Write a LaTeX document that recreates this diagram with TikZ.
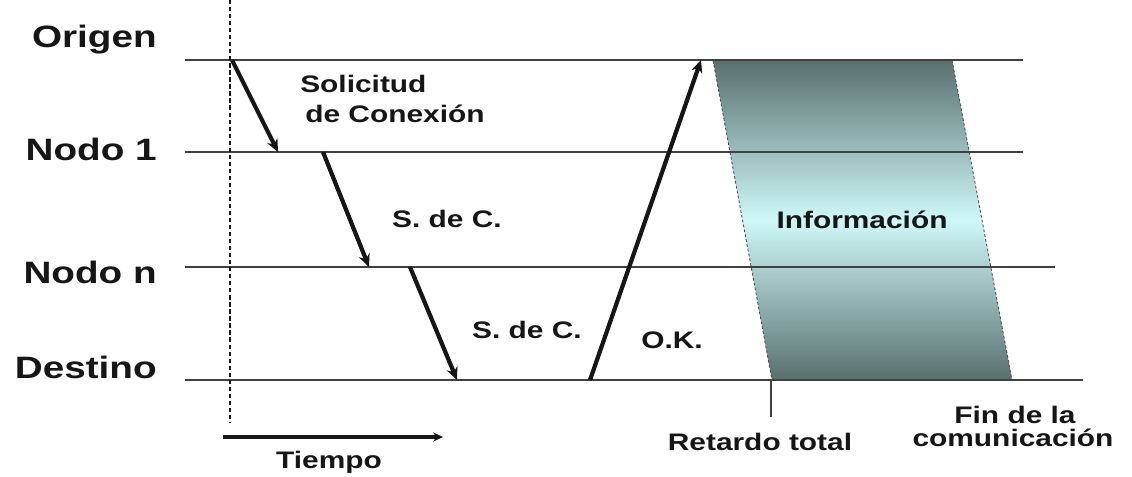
\documentclass[tikz,border=0pt]{standalone}
\usepackage{fontspec}
\setmainfont{Liberation Sans}[FakeStretch=1.25]
\usetikzlibrary{arrows.meta}
\definecolor{slate}{RGB}{88,112,110}
\definecolor{aqua}{RGB}{206,248,248}
\definecolor{ink}{RGB}{22,22,22}

\begin{document}
\begin{tikzpicture}[x=0.025cm,y=-0.025cm,
  lbl/.style={font=\fontsize{22}{26}\selectfont\bfseries,text=ink,inner sep=0pt,anchor=base east},
  txt/.style={font=\fontsize{17}{20}\selectfont\bfseries,text=ink,inner sep=0pt,anchor=base},
  msg/.style={line width=3pt,draw=ink,-{Stealth[length=9pt,width=8pt]}},
  level/.style={line width=1pt,draw=black!75}]
\useasboundingbox (0,0) rectangle (1132,476);

% bloque de informacion
\shade[top color=slate,bottom color=slate,middle color=aqua]
  (713,60) -- (952,60) -- (1012,380) -- (772,380) -- cycle;
\draw[draw=black!70,line width=0.6pt,dash pattern=on 2pt off 1.5pt] (713,60) -- (772,380);
\draw[draw=black!70,line width=0.6pt,dash pattern=on 2pt off 1.5pt] (952,60) -- (1012,380);
\node[txt] (info) at (862,228) {Información};

% niveles
\node[lbl] (origen) at (157,47) {Origen};
\node[lbl] (nodo1) at (157,160) {Nodo 1};
\node[lbl] (nodon) at (157,283) {Nodo n};
\node[lbl] (destino) at (157,378) {Destino};

\draw[level] (185,60) -- (1023,60);
\draw[level] (185,152) -- (1023,152);
\draw[level] (185,267) -- (1055,267);
\draw[level] (185,380) -- (1083,380);

% eje de tiempo
\draw[line width=0.8pt,draw=ink,dash pattern=on 3pt off 2pt] (230,0) -- (230,423);
\coordinate (t0) at (223,437);
\coordinate (t1) at (443,437);
\draw[line width=2.4pt,draw=ink,-{Stealth[length=7pt,width=6.5pt]}] (t0) -- (t1);
\node[txt] (tiempo) at (329,468) {Tiempo};

% mensajes
\coordinate (a0) at (232,60);
\coordinate (a1) at (278,152);
\coordinate (b0) at (323,152);
\coordinate (b1) at (369,267);
\coordinate (c0) at (410,267);
\coordinate (c1) at (457,380);
\coordinate (d0) at (590,380);
\coordinate (d1) at (701,60);
\draw[msg] (a0) -- (a1);
\draw[msg] (b0) -- (b1);
\draw[msg] (c0) -- (c1);
\draw[msg] (d0) -- (d1);

\node[txt,anchor=base west] (sol1) at (300,92) {Solicitud};
\node[txt,anchor=base west] (sol2) at (305,122) {de Conexión};
\node[txt] (sdc1) at (447,227) {S. de C.};
\node[txt] (sdc2) at (527,338) {S. de C.};
\node[txt] (ok) at (672,348) {O.K.};

% marcas finales
\coordinate (r0) at (771,380);
\coordinate (r1) at (771,417);
\draw[level] (r0) -- (r1);
\node[txt] (retardo) at (760,450) {Retardo total};
\node[txt] (fin1) at (1015,423) {Fin de la};
\node[txt] (fin2) at (1013,446) {comunicación};
\end{tikzpicture}
\end{document}
